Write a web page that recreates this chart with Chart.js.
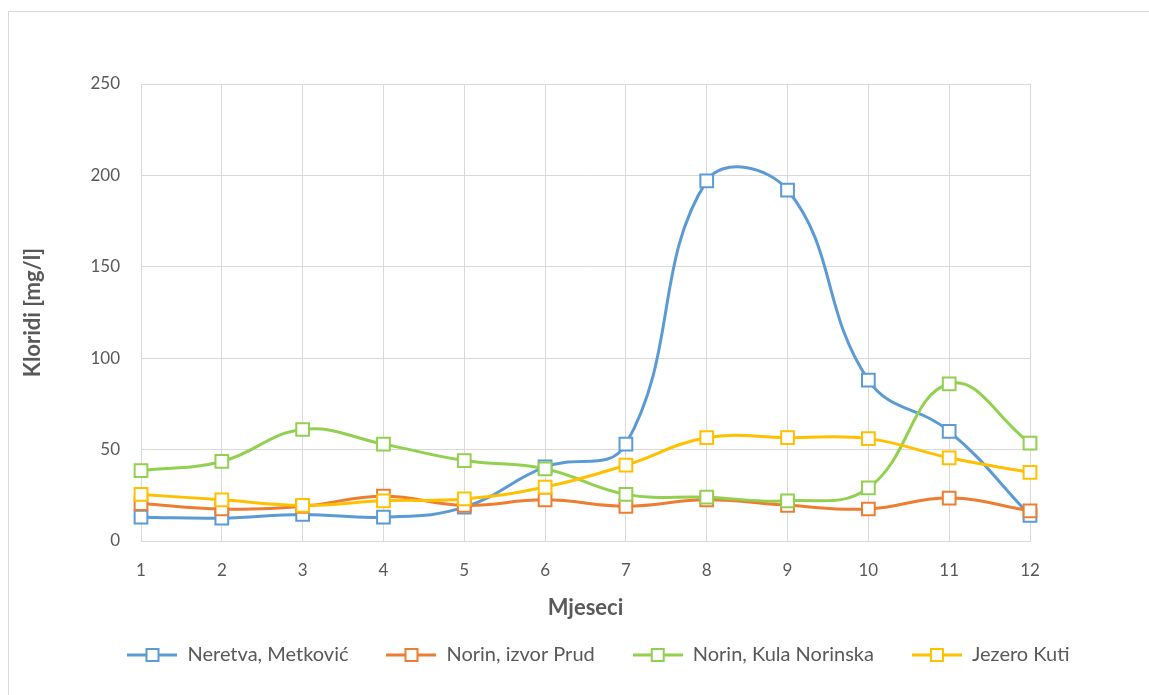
<!DOCTYPE html>
<html>
<head>
<meta charset="utf-8">
<script src="https://cdn.jsdelivr.net/npm/chart.js@4"></script>
<style>
  body { margin: 0; background: #fff; }
  #wrap { position: relative; width: 1149px; height: 695px; overflow: hidden; }
  #frame { position: absolute; left: 8px; top: 11px; width: 1200px; height: 700px; border: 1px solid #d9d9d9; box-sizing: border-box; }
  canvas { position: absolute; left: 0; top: 0; }
</style>
</head>
<body>
<div id="wrap">
  <div id="frame"></div>
  <canvas id="chart" width="1149" height="695"></canvas>
</div>
<script>
// months on the x axis
const months = ['1', '2', '3', '4', '5', '6', '7', '8', '9', '10', '11', '12'];

// chloride values (mg/l)
const neretvaMetkovic = [13, 12.5, 14.5, 13, 18.5, 40.5, 53, 197, 192, 88, 60, 14];
const norinIzvorPrud = [20.5, 17.5, 19, 24.5, 19.5, 22.5, 19, 22.5, 19.5, 17.5, 23.5, 16.5];
const norinKulaNorinska = [38.5, 43.5, 61, 53, 44, 39.5, 25.5, 24, 22, 29, 86, 53.5];
const jezeroKuti = [25.5, 22.5, 19.5, 22, 23, 29.5, 41.5, 56.5, 56.5, 56, 45.5, 37.5];

const seriesNames = ['Neretva, Metković', 'Norin, izvor Prud', 'Norin, Kula Norinska', 'Jezero Kuti'];
const seriesColors = ['#5b9bd5', '#ed7d31', '#92d050', '#ffc000'];

const FONT = 'Lato, "Open Sans", sans-serif';

// legend marker: short line with the square marker on it
function legendMarker(color) {
    const c = document.createElement('canvas');
    c.width = 50; c.height = 16;
    const g = c.getContext('2d');
    g.strokeStyle = color;
    g.lineWidth = 3;
    g.beginPath(); g.moveTo(0, 8); g.lineTo(50, 8); g.stroke();
    g.fillStyle = '#fff';
    g.lineWidth = 2;
    g.fillRect(19, 2, 12, 12);
    g.strokeRect(19, 2, 12, 12);
    return c;
}

const allValues = [neretvaMetkovic, norinIzvorPrud, norinKulaNorinska, jezeroKuti];

const datasets = allValues.map((vals, i) => ({
    label: seriesNames[i],
    data: vals,
    order: allValues.length - 1 - i, // later series drawn on top, like Excel
    borderColor: seriesColors[i],
    backgroundColor: '#ffffff',
    borderWidth: 3,
    tension: 0.42,
    pointStyle: 'rect',
    pointRadius: 9,
    pointBorderWidth: 2,
    pointBackgroundColor: '#ffffff',
    pointBorderColor: seriesColors[i],
    legendImg: legendMarker(seriesColors[i])
}));

new Chart(document.getElementById('chart'), {
    type: 'line',
    data: { labels: months, datasets: datasets },
    options: {
        responsive: false,
        animation: false,
        layout: { padding: { top: 84, right: 0, left: 48, bottom: 20 } },
        plugins: {
            tooltip: { enabled: false },
            legend: {
                position: 'bottom',
                labels: {
                    color: '#595959',
                    font: { family: FONT, size: 20 },
                    usePointStyle: true,
                    pointStyleWidth: 50,
                    padding: 38,
                    generateLabels: function (chart) {
                        return chart.data.datasets.map((ds, i) => ({
                            text: ds.label,
                            pointStyle: ds.legendImg,
                            fontColor: '#595959',
                            strokeStyle: ds.borderColor,
                            fillStyle: '#fff',
                            lineWidth: 0,
                            datasetIndex: i
                        }));
                    }
                }
            }
        },
        scales: {
            x: {
                offset: false,
                grid: { color: '#d9d9d9', drawTicks: false },
                border: { color: '#d9d9d9' },
                ticks: { color: '#595959', font: { family: FONT, size: 17 }, padding: 19 },
                title: { display: true, text: 'Mjeseci', color: '#595959', font: { family: FONT, size: 22, weight: 'bold' }, padding: { top: 8, bottom: -14 } },
                afterFit: function (s) { s.height = 66; }
            },
            y: {
                min: 0,
                max: 250,
                ticks: { stepSize: 50, color: '#595959', font: { family: FONT, size: 17 }, padding: 21 },
                grid: { color: '#d9d9d9', drawTicks: false },
                border: { display: false },
                title: { display: true, text: 'Kloridi [mg/l]', color: '#595959', font: { family: FONT, size: 22, weight: 'bold' }, padding: { top: -28, bottom: 0 } },
                afterFit: function (s) { s.width = 93; }
            },
            // empty right-hand axis, only reserves the space right of the plot
            yRight: {
                position: 'right',
                display: true,
                grid: { display: false },
                border: { display: false },
                ticks: { display: false },
                afterFit: function (s) { s.width = 119; }
            }
        }
    }
});
</script>
</body>
</html>
